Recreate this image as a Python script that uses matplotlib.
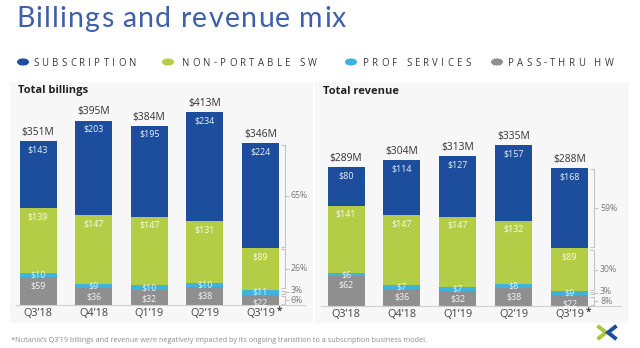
import matplotlib
matplotlib.use("Agg")
import matplotlib.pyplot as plt
from matplotlib.font_manager import FontProperties
from matplotlib.textpath import TextToPath
from matplotlib.lines import Line2D
from matplotlib.patches import Circle

# ---- data ($M) ----
quarters = ["Q3\u201918", "Q4\u201918", "Q1\u201919", "Q2\u201919", "Q3\u201919"]
series_names = ["SUBSCRIPTION", "NON-PORTABLE SW", "PROF SERVICES", "PASS-THRU HW"]

bill_subscription = [143, 203, 195, 234, 224]
bill_nonportable = [139, 147, 147, 131, 89]
bill_profservices = [10, 9, 10, 10, 11]
bill_passthru = [59, 36, 32, 38, 22]
bill_totals = [351, 395, 384, 413, 346]
bill_mix_pct = ["65%", "26%", "3%", "6%"]

rev_subscription = [80, 114, 127, 157, 168]
rev_nonportable = [141, 147, 147, 132, 89]
rev_profservices = [6, 7, 7, 8, 9]
rev_passthru = [62, 36, 32, 38, 22]
rev_totals = [289, 304, 313, 335, 288]
rev_mix_pct = ["59%", "30%", "3%", "8%"]

footnote = ("*Nutanix\u2019s Q3\u201919 billings and revenue were negatively impacted "
            "by its ongoing transition to a subscription business model.")

# ---- style ----
C_SUB = "#1d4e9d"
C_NPS = "#b4cd47"
C_PRO = "#3db3df"
C_HW = "#8f8f8f"
COLORS = [C_SUB, C_NPS, C_PRO, C_HW]
PANEL = "#f7f7f7"
FONT = ["Open Sans", "DejaVu Sans"]

W, H = 640, 348
fig = plt.figure(figsize=(W / 100, H / 100), dpi=100)
fig.patch.set_facecolor("white")


def fx(x):
    return x / W


def fy(y):
    return 1 - y / H


def spaced_text(x, y, s, size, gap, color, family=FONT, weight="normal"):
    """Draw text with extra letter spacing (pixel coords, y = baseline)."""
    prop = FontProperties(family=family, size=size, weight=weight)
    ttp = TextToPath()
    cur = x
    for ch in s:
        w, _, _ = ttp.get_text_width_height_descent(ch, prop, ismath=False)
        if ch != " ":
            fig.text(fx(cur), fy(y), ch, fontproperties=prop, color=color,
                     ha="left", va="baseline")
        cur += w * 100 / 72 + gap
    return cur


# ---- title ----
spaced_text(16, 27, "Billings and revenue mix", 20.5, 1.2, "#3d60a8",
            family=["Lato", "DejaVu Sans"])

# ---- legend ----
legend_circ = [23, 168, 351, 497]
legend_text = [33, 182, 363, 508]
for name, col, cx, tx in zip(series_names, COLORS, legend_circ, legend_text):
    fig.patches.append(Circle((fx(cx), fy(62)), radius=5.3 / W, color=col,
                              transform=fig.transFigure))
    spaced_text(tx, 65.5, name, 6.9, 3.3, "#3a3a3a")


def panel(rect_px, xlim, ylim, subs, nps, pro, hw, totals, pcts, title, bar_w, spacing):
    x0, y0, x1, y1 = rect_px
    ax = fig.add_axes([fx(x0), fy(y1), (x1 - x0) / W, (y1 - y0) / H])
    ax.set_facecolor(PANEL)
    ax.set_xlim(*xlim)
    ax.set_ylim(*ylim)
    for sp in ax.spines.values():
        sp.set_visible(False)
    ax.set_xticks([])
    ax.set_yticks([])
    idx = list(range(len(quarters)))

    bottoms = [0] * len(idx)
    layers = [hw, pro, nps, subs]
    layer_cols = [C_HW, C_PRO, C_NPS, C_SUB]
    for vals, col in zip(layers, layer_cols):
        ax.bar(idx, vals, bottom=bottoms, width=bar_w, color=col, linewidth=0)
        for i, v in enumerate(vals):
            if col == C_PRO:
                y, off = bottoms[i] + v / 2, 0
            else:
                y, off = bottoms[i] + v, -6.3
            ax.annotate(f"${v}", (i, y), xytext=(0, off), textcoords="offset points",
                        ha="center", va="center", fontsize=6.4, family=FONT,
                        color="white" if col != C_PRO else "#e6f7ff", alpha=0.92)
        bottoms = [b + v for b, v in zip(bottoms, vals)]

    for i, t in enumerate(totals):
        ax.annotate(f"${t}M", (i, bottoms[i]), xytext=(0, 2.2), textcoords="offset points",
                    ha="center", va="bottom", fontsize=7.4, family=FONT, color="#333333")

    ax.axhline(0, xmin=0.02, xmax=0.975, color="#d0d0d0", lw=0.8)

    # quarter labels inside the panel, under the baseline
    for i, q in enumerate(quarters):
        ax.annotate(q, (i, 0), xytext=(0, -6.3), textcoords="offset points",
                    ha="center", va="center", fontsize=7.8, family=FONT, color="#444444")
    ax.annotate("*", (4, 0), xytext=(11.8, -4.2), textcoords="offset points",
                fontsize=7.0, fontweight="bold", ha="left", va="center",
                color="#444444", family=FONT)

    # mix brackets beside the last bar
    last = len(idx) - 1
    px = 1.0 / spacing
    yppx = (ylim[1] - ylim[0]) / (y1 - y0)
    bx = last + bar_w / 2 + 6 * px
    segs = [(bottoms[last] - subs[last], bottoms[last]),
            (hw[last] + pro[last], hw[last] + pro[last] + nps[last]),
            (hw[last], hw[last] + pro[last]),
            (0, hw[last])]
    nudges = [0, 0, 1.5, -1.0]
    for (lo, hi), lab, nd in zip(segs, pcts, nudges):
        g = 1.2 * yppx
        a, b = lo + g, hi - g
        kw = dict(color="#c4c4c4", lw=0.8, solid_capstyle="butt")
        ax.plot([bx - 4 * px, bx, bx, bx - 4 * px], [a, a, b, b], **kw)
        mid = (lo + hi) / 2
        ax.plot([bx, bx + 4 * px], [mid, mid], **kw)
        ax.text(bx + 6 * px, mid + nd * yppx, lab, fontsize=6.3, family=FONT,
                color="#7a7a7a", ha="left", va="center")

    fig.text(fx(x0 + 8), fy(91), title, fontsize=8.0, fontweight="bold", family=FONT,
             color="#222222", ha="left", va="center")
    return ax


panel((10, 82, 313, 323), ((10 - 38) / 55.6, (313 - 38) / 55.6), (-38.5, 477.5),
      bill_subscription, bill_nonportable, bill_profservices, bill_passthru,
      bill_totals, bill_mix_pct, "Total billings", 37 / 55.6, 55.6)
panel((315, 82, 629, 323), ((315 - 346) / 55.9, (629 - 346) / 55.9), (-35.4, 466.7),
      rev_subscription, rev_nonportable, rev_profservices, rev_passthru,
      rev_totals, rev_mix_pct, "Total revenue", 37 / 55.9, 55.9)

# ---- footnote ----
fig.text(fx(11), fy(340), footnote, fontsize=5.2, family=FONT, color="#8a8a8a",
         ha="left", va="center")

# ---- logo mark ----
fig.lines.append(Line2D([fx(599), fx(606), fx(599)], [fy(327), fy(332.5), fy(338)],
                        transform=fig.transFigure, color="#a9c63d", lw=2.8,
                        solid_joinstyle="miter"))
fig.lines.append(Line2D([fx(615), fx(608), fx(615)], [fy(327), fy(332.5), fy(338)],
                        transform=fig.transFigure, color="#1d4e9d", lw=2.8,
                        solid_joinstyle="miter"))

fig.savefig("out.png", dpi=100, facecolor="white")
